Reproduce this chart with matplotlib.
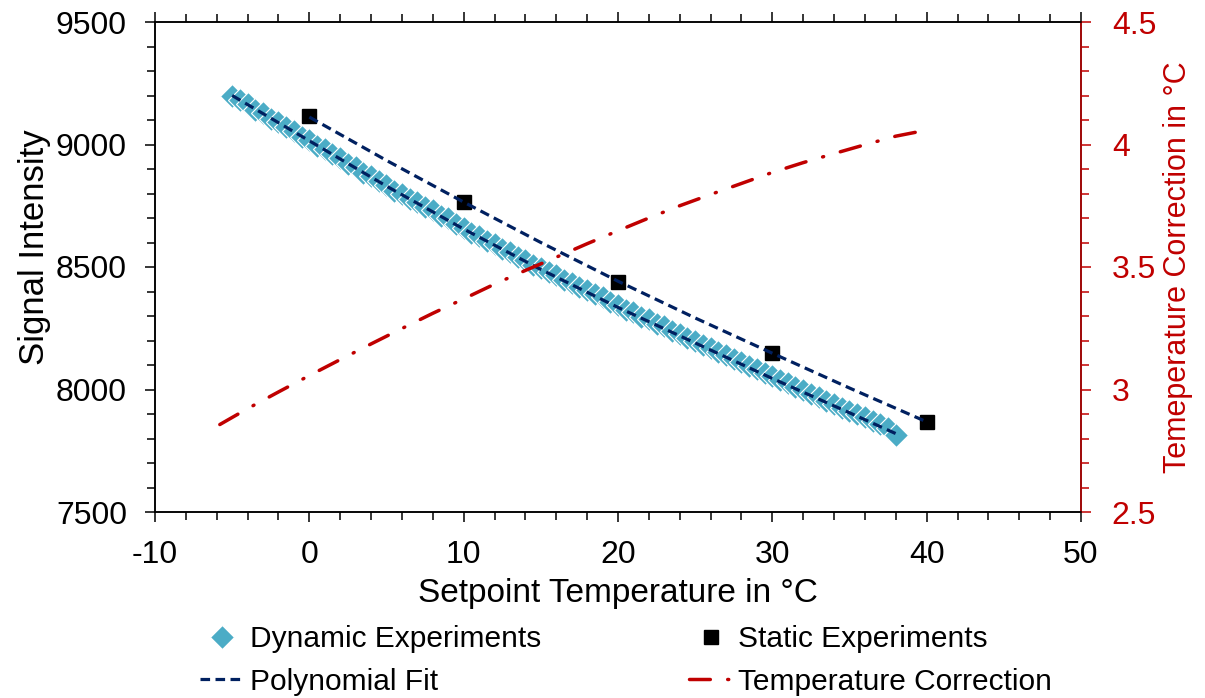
import matplotlib
matplotlib.use("Agg")
import matplotlib.pyplot as plt
from matplotlib.ticker import MultipleLocator

plt.rcParams["font.family"] = ["Liberation Sans", "DejaVu Sans"]
plt.rcParams["axes.unicode_minus"] = False

# Dynamic experiments
dyn_temp = [-5, -4.5, -4, -3.5, -3, -2.5, -2, -1.5, -1, -0.5,
            0, 0.5, 1, 1.5, 2, 2.5, 3, 3.5, 4, 4.5,
            5, 5.5, 6, 6.5, 7, 7.5, 8, 8.5, 9, 9.5,
            10, 10.5, 11, 11.5, 12, 12.5, 13, 13.5, 14, 14.5,
            15, 15.5, 16, 16.5, 17, 17.5, 18, 18.5, 19, 19.5,
            20, 20.5, 21, 21.5, 22, 22.5, 23, 23.5, 24, 24.5,
            25, 25.5, 26, 26.5, 27, 27.5, 28, 28.5, 29, 29.5,
            30, 30.5, 31, 31.5, 32, 32.5, 33, 33.5, 34, 34.5,
            35, 35.5, 36, 36.5, 37, 37.5, 38]
dyn_signal = [9200, 9180, 9165, 9140, 9128, 9105, 9092, 9070, 9055, 9030,
              9020, 8995, 8982, 8960, 8945, 8922, 8910, 8885, 8872, 8850,
              8835, 8812, 8800, 8778, 8765, 8745, 8732, 8710, 8698, 8675,
              8660, 8640, 8628, 8608, 8595, 8575, 8563, 8542, 8530, 8510,
              8496, 8478, 8466, 8448, 8436, 8418, 8405, 8388, 8376, 8358,
              8343, 8325, 8315, 8296, 8286, 8268, 8258, 8240, 8228, 8210,
              8198, 8182, 8170, 8152, 8140, 8124, 8112, 8095, 8083, 8066,
              8054, 8038, 8026, 8010, 7998, 7982, 7970, 7954, 7942, 7926,
              7914, 7898, 7886, 7870, 7858, 7842, 7815]

# polynomial fit through the dynamic data
dyn_fit_temp = [-5, 0, 5, 10, 15, 20, 25, 30, 35, 38]
dyn_fit_signal = [9200, 9015, 8830, 8655, 8490, 8335, 8190, 8045, 7905, 7820]

# Static experiments
stat_temp = [0, 10, 20, 30, 40]
stat_signal = [9115, 8765, 8440, 8148, 7867]

stat_fit_temp = [0, 5, 10, 15, 20, 25, 30, 35, 40]
stat_fit_signal = [9112, 8935, 8765, 8600, 8442, 8292, 8148, 8006, 7868]

# temperature correction (right axis)
corr_temp = [-5.8, -4, -2, 0, 2, 4, 6, 8, 10, 12, 14, 16, 18, 20,
             22, 24, 26, 28, 30, 32, 34, 36, 38, 39.7]
corr_value = [2.857, 2.922, 2.990, 3.057, 3.122, 3.186, 3.249, 3.311, 3.370,
              3.430, 3.486, 3.540, 3.595, 3.648, 3.700, 3.750, 3.796, 3.841,
              3.886, 3.926, 3.963, 3.999, 4.034, 4.055]

AQUA = "#4BACC6"
NAVY = "#002060"
RED = "#C00000"
FS_TICK = 23
FS_LABEL = 24
FS_LEG = 21.5

fig = plt.figure(figsize=(12.05, 6.98), dpi=100)
ax = fig.add_axes([155 / 1205, 1 - 512 / 698, (1081 - 155) / 1205, (512 - 22) / 698])
ax2 = ax.twinx()

ax.plot(dyn_temp, dyn_signal, linestyle="none", marker="D", markersize=12,
        color=AQUA, markeredgecolor="white", markeredgewidth=0.8,
        label="Dynamic Experiments", zorder=2)
ax.plot(dyn_fit_temp, dyn_fit_signal, color=NAVY, lw=2.3,
        dashes=(3, 1.7), label="Polynomial Fit", zorder=4)
ax.plot(stat_temp, stat_signal, linestyle="none", marker="s", markersize=10.5,
        color="black", label="Static Experiments", zorder=3)
ax.plot(stat_fit_temp, stat_fit_signal, color=NAVY, lw=2.3, dashes=(3, 1.7),
        zorder=4)
ax2.plot(corr_temp, corr_value, color=RED, lw=2.5,
         dashes=(6, 5, 0.3, 5), dash_capstyle="round",
         label="Temperature Correction")

ax.set_xlim(-10, 50)
ax.set_ylim(7500, 9500)
ax2.set_ylim(2.5, 4.5)

ax.xaxis.set_major_locator(MultipleLocator(10))
ax.xaxis.set_minor_locator(MultipleLocator(2))
ax.yaxis.set_major_locator(MultipleLocator(500))
ax.yaxis.set_minor_locator(MultipleLocator(100))
ax2.yaxis.set_major_locator(MultipleLocator(0.5))
ax2.yaxis.set_minor_locator(MultipleLocator(0.1))
ax2.yaxis.set_major_formatter(plt.FuncFormatter(lambda v, p: f"{v:g}"))

ax.tick_params(which="both", direction="out", top=True, labelsize=FS_TICK,
               width=1.1, colors="black")
ax.tick_params(which="major", length=7.2, pad=13)
ax.tick_params(which="minor", length=5.5)
ax2.tick_params(which="both", direction="out", labelsize=FS_TICK, width=1.1,
                colors=RED)
ax2.tick_params(which="major", length=7.2, pad=15)
ax2.tick_params(which="minor", length=5.5)

for s in ax.spines.values():
    s.set_linewidth(1.1)
for s in ax2.spines.values():
    s.set_linewidth(1.1)
ax2.spines["right"].set_color(RED)

ax.set_xlabel("Setpoint Temperature in °C", fontsize=FS_LABEL, labelpad=6)
ax.set_ylabel("Signal Intensity", fontsize=25, labelpad=2)
ax.yaxis.set_label_coords(-0.112, 0.54)
ax2.set_ylabel("Temeperature Correction in °C", fontsize=22, color=RED,
               labelpad=5)

h1, l1 = ax.get_legend_handles_labels()
h2, l2 = ax2.get_legend_handles_labels()
handles = [h1[0], h1[1], h1[2], h2[0]]
labels = [l1[0], l1[1], l1[2], l2[0]]
fig.legend(handles, labels, loc="upper left",
           bbox_to_anchor=(200 / 1205, 1 - 625 / 698),
           ncol=2, frameon=False, fontsize=FS_LEG, handlelength=1.5,
           handletextpad=0.16, columnspacing=4.95, labelspacing=0.5,
           borderpad=0, borderaxespad=0)

fig.savefig("out.png", dpi=100)
